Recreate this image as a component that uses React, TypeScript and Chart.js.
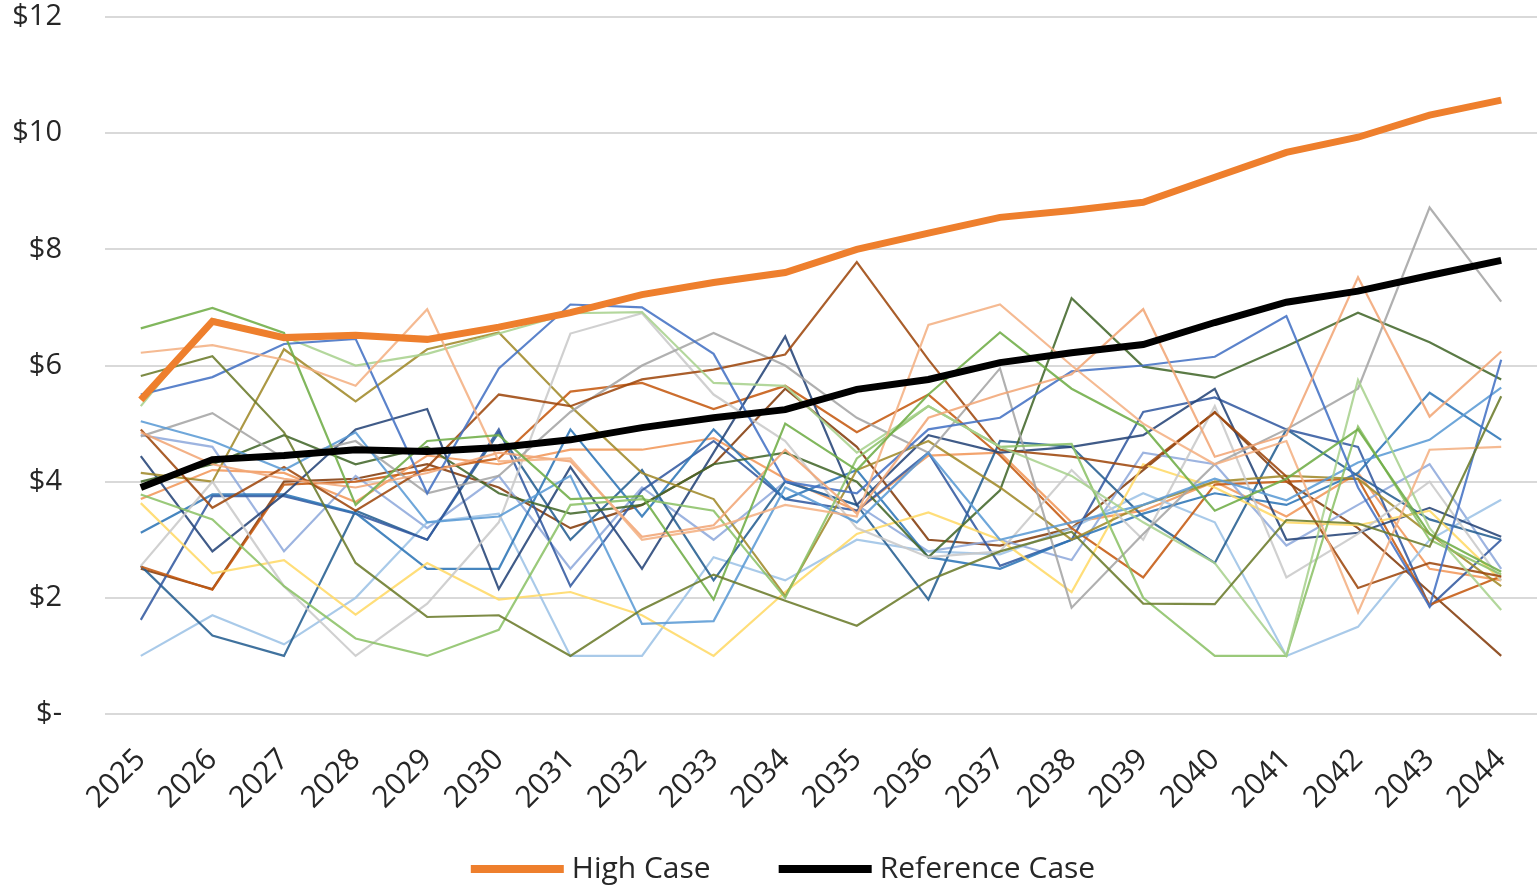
import React, { useEffect, useRef } from "react";
import { Chart, registerables } from "chart.js";

Chart.register(...registerables);

// ---------- data ----------
const years = [
  "2025", "2026", "2027", "2028", "2029", "2030", "2031", "2032", "2033", "2034",
  "2035", "2036", "2037", "2038", "2039", "2040", "2041", "2042", "2043", "2044",
];

const highCase = [5.41, 6.76, 6.48, 6.52, 6.45, 6.66, 6.91, 7.22, 7.43, 7.6, 8.0, 8.28, 8.55, 8.67, 8.81, 9.24, 9.67, 9.93, 10.31, 10.57];
const referenceCase = [3.9, 4.38, 4.45, 4.55, 4.52, 4.59, 4.72, 4.93, 5.1, 5.24, 5.59, 5.76, 6.05, 6.22, 6.36, 6.74, 7.09, 7.28, 7.55, 7.81];

const s01 = [5.82, 6.16, 4.85, 2.6, 1.67, 1.7, 1.0, 1.8, 2.4, 1.95, 1.52, 2.3, 2.8, 3.14, 1.9, 1.89, 3.34, 3.28, 2.88, 5.47];
const s02 = [6.64, 6.99, 6.56, 3.6, 4.7, 4.8, 3.7, 3.75, 1.97, 5.0, 4.2, 5.5, 6.57, 5.6, 4.95, 3.5, 4.05, 4.9, 3.1, 2.45];
const s03 = [6.22, 6.35, 6.1, 5.65, 6.97, 4.35, 4.4, 3.0, 3.2, 3.6, 3.4, 6.7, 7.05, 6.0, 5.0, 4.3, 4.7, 1.75, 4.55, 4.6];
const s04 = [4.85, 4.3, 4.05, 3.9, 4.15, 4.5, 4.35, 3.05, 3.25, 4.55, 3.45, 5.1, 5.5, 5.85, 6.97, 4.43, 4.8, 7.52, 5.12, 6.24];
const s05 = [5.5, 5.8, 6.37, 6.46, 3.8, 5.95, 7.05, 7.0, 6.2, 4.0, 3.8, 4.9, 5.1, 5.9, 6.0, 6.15, 6.85, 3.9, 1.85, 6.1];
const s06 = [5.3, 6.8, 6.5, 6.0, 6.2, 6.55, 6.9, 6.92, 5.7, 5.65, 4.5, 5.3, 4.6, 4.1, 3.3, 2.6, 1.0, 5.75, 3.2, 1.79];
const s07 = [3.78, 3.35, 2.2, 1.3, 1.0, 1.45, 3.6, 3.7, 3.5, 2.0, 4.4, 5.3, 4.6, 4.65, 2.0, 1.0, 1.0, 4.95, 3.0, 2.4];
const s08 = [5.04, 4.7, 4.2, 4.85, 3.3, 3.4, 4.1, 1.55, 1.6, 3.9, 3.3, 4.5, 3.0, 3.3, 3.6, 4.05, 3.68, 4.33, 4.72, 5.62];
const s09 = [4.9, 3.55, 4.25, 3.5, 4.25, 5.5, 5.3, 5.76, 5.93, 6.19, 7.78, 6.1, 4.55, 4.43, 4.24, 5.19, 4.09, 2.17, 2.6, 2.37];
const s10 = [4.78, 5.18, 4.4, 4.7, 3.8, 4.1, 5.2, 6.0, 6.56, 6.0, 5.1, 4.5, 5.95, 1.83, 3.1, 4.3, 4.9, 5.6, 8.72, 7.1];
const s11 = [2.55, 4.0, 2.2, 1.0, 1.9, 3.3, 6.55, 6.9, 5.5, 4.7, 3.2, 2.7, 2.8, 4.2, 3.0, 5.3, 2.35, 3.1, 4.0, 2.3];
const s12 = [4.15, 4.0, 6.28, 5.38, 6.28, 6.57, 5.3, 4.15, 3.7, 2.03, 4.2, 4.7, 3.9, 3.0, 3.6, 4.0, 4.1, 4.05, 3.1, 2.2];
const s13 = [4.0, 4.3, 4.8, 4.3, 4.6, 3.8, 3.45, 3.6, 4.3, 4.5, 4.0, 2.7, 3.85, 7.16, 5.98, 5.79, 6.33, 6.91, 6.4, 5.76];
const s14 = [3.63, 2.42, 2.65, 1.71, 2.6, 1.97, 2.1, 1.7, 1.0, 2.1, 3.1, 3.47, 3.0, 2.1, 4.3, 3.9, 3.3, 3.25, 3.5, 2.3];
const s15 = [4.44, 2.8, 3.78, 4.9, 5.25, 2.15, 4.25, 2.5, 4.5, 6.5, 3.6, 4.8, 4.5, 4.6, 4.8, 5.6, 3.0, 3.12, 3.55, 3.05];
const s16 = [3.12, 3.78, 3.78, 3.46, 2.5, 2.5, 4.9, 3.4, 4.9, 3.7, 4.2, 2.7, 2.5, 3.0, 3.45, 3.8, 3.6, 4.15, 5.53, 4.72];
const s17 = [2.54, 2.14, 3.95, 4.0, 4.2, 4.4, 5.55, 5.7, 5.25, 5.65, 4.85, 5.5, 4.45, 3.2, 2.35, 3.95, 4.0, 4.05, 1.88, 2.37];
const s18 = [1.62, 3.75, 3.75, 3.45, 3.0, 4.9, 2.2, 3.85, 4.7, 3.7, 3.5, 4.5, 2.55, 3.0, 5.2, 5.45, 4.9, 4.6, 1.85, 3.0];
const s19 = [2.55, 1.35, 1.0, 3.5, 3.0, 4.85, 3.0, 4.2, 2.3, 4.0, 3.6, 1.97, 4.7, 4.6, 3.4, 2.6, 4.9, 4.1, 3.35, 3.0];
const s20 = [1.0, 1.7, 1.2, 2.0, 3.3, 3.45, 1.0, 1.0, 2.7, 2.3, 3.0, 2.8, 2.75, 3.2, 3.8, 3.3, 1.0, 1.5, 3.0, 3.69];
const s21 = [4.8, 4.6, 2.8, 4.1, 3.2, 4.1, 2.5, 3.9, 3.0, 4.0, 3.6, 2.8, 3.0, 2.65, 4.5, 4.3, 2.9, 3.6, 4.3, 2.5];
const s22 = [3.7, 4.2, 4.15, 3.65, 4.45, 4.3, 4.55, 4.55, 4.75, 4.05, 3.5, 4.45, 4.5, 3.3, 3.5, 4.0, 3.4, 4.15, 2.5, 2.3];
const s23 = [2.5, 2.15, 4.0, 4.05, 4.3, 3.9, 3.2, 3.6, 4.3, 5.6, 4.6, 3.0, 2.9, 3.2, 4.2, 5.2, 4.0, 3.2, 2.1, 1.0];

const scenarioValues = [s01, s02, s03, s04, s05, s06, s07, s08, s09, s10, s11, s12, s13, s14, s15, s16, s17, s18, s19, s20, s21, s22, s23];
const scenarioColors = [
  "#6B7B2B", "#70AD47", "#F4B183", "#F1A676", "#4472C4", "#A9D18E", "#8CC168", "#5B9BD5",
  "#9E480E", "#A5A5A5", "#C9C9C9", "#A08A2A", "#43682B", "#FFD966", "#264478", "#2E75B6",
  "#C55A11", "#335AA1", "#255E91", "#9DC3E6", "#8FAADC", "#F1975A", "#843C0C",
];

const highColor = "#EE7F2D";
const refColor = "#000000";
const legendLabels = ["High Case", "Reference Case"];

export default function App() {
  const ref = useRef<HTMLCanvasElement>(null);

  useEffect(() => {
    document.body.style.margin = "0";
    const canvas = ref.current;
    if (!canvas) return;

    const boldDatasets = [
      { label: legendLabels[0], data: highCase, borderColor: highColor, backgroundColor: highColor, borderWidth: 7 },
      { label: legendLabels[1], data: referenceCase, borderColor: refColor, backgroundColor: refColor, borderWidth: 7 },
    ];
    const thinDatasets = scenarioValues.map((values, i) => ({
      label: "Scenario " + (i + 1),
      data: values,
      borderColor: scenarioColors[i] + "E0",
      backgroundColor: scenarioColors[i],
      borderWidth: 2.2,
    }));

    const legendPlugin = {
      id: "bottomLegend",
      afterDraw(chart: any) {
        const ctx = chart.ctx as CanvasRenderingContext2D;
        const swatchW = 93;
        const swatchH = 8;
        const gap = 8;
        const itemGap = 68;
        const centerX = 783;
        const centerY = 869;
        ctx.save();
        ctx.font = '30px "Open Sans"';
        ctx.textBaseline = "middle";
        ctx.textAlign = "left";
        const items = chart.data.datasets.filter((d: any) => legendLabels.includes(d.label));
        const widths = items.map((d: any) => swatchW + gap + ctx.measureText(d.label).width);
        const total = widths.reduce((a: number, b: number) => a + b, 0) + itemGap * (items.length - 1);
        let x = centerX - total / 2;
        items.forEach((d: any, i: number) => {
          ctx.fillStyle = d.borderColor;
          ctx.fillRect(x, centerY - swatchH / 2, swatchW, swatchH);
          ctx.fillStyle = "#262626";
          ctx.fillText(d.label, x + swatchW + gap, centerY);
          x += widths[i] + itemGap;
        });
        ctx.restore();
      },
    };

    const chart = new Chart(canvas, {
      type: "line",
      data: { labels: years, datasets: [...boldDatasets, ...thinDatasets] as any },
      options: {
        responsive: false,
        animation: false,
        devicePixelRatio: 1,
        layout: { padding: { top: 17, right: 0, left: 0, bottom: 0 } },
        elements: { point: { radius: 0, hoverRadius: 0 }, line: { tension: 0 } },
        plugins: { legend: { display: false }, tooltip: { enabled: false } },
        scales: {
          x: {
            offset: true,
            grid: { display: false },
            border: { display: false },
            ticks: {
              autoSkip: false,
              minRotation: 45,
              maxRotation: 45,
              padding: 20,
              color: "#262626",
              font: { family: '"Open Sans"', size: 30 },
            },
            afterFit: (s: any) => {
              s.height = 172;
              s.paddingLeft = 0;
              s.paddingRight = 0;
            },
          },
          y: {
            min: 0,
            max: 12,
            ticks: {
              stepSize: 2,
              padding: 43,
              color: "#262626",
              font: { family: '"Open Sans"', size: 29 },
              callback: (v: any) => (Number(v) === 0 ? "$-" : "$" + v),
            },
            grid: { color: "#D9D9D9", lineWidth: 2, drawTicks: false },
            border: { display: false },
            afterFit: (s: any) => {
              s.width = 105;
              s.paddingTop = 0;
              s.paddingBottom = 0;
            },
          },
        },
      },
      plugins: [legendPlugin],
    });

    return () => chart.destroy();
  }, []);

  return <canvas ref={ref} width={1537} height={886} style={{ display: "block" }} />;
}
